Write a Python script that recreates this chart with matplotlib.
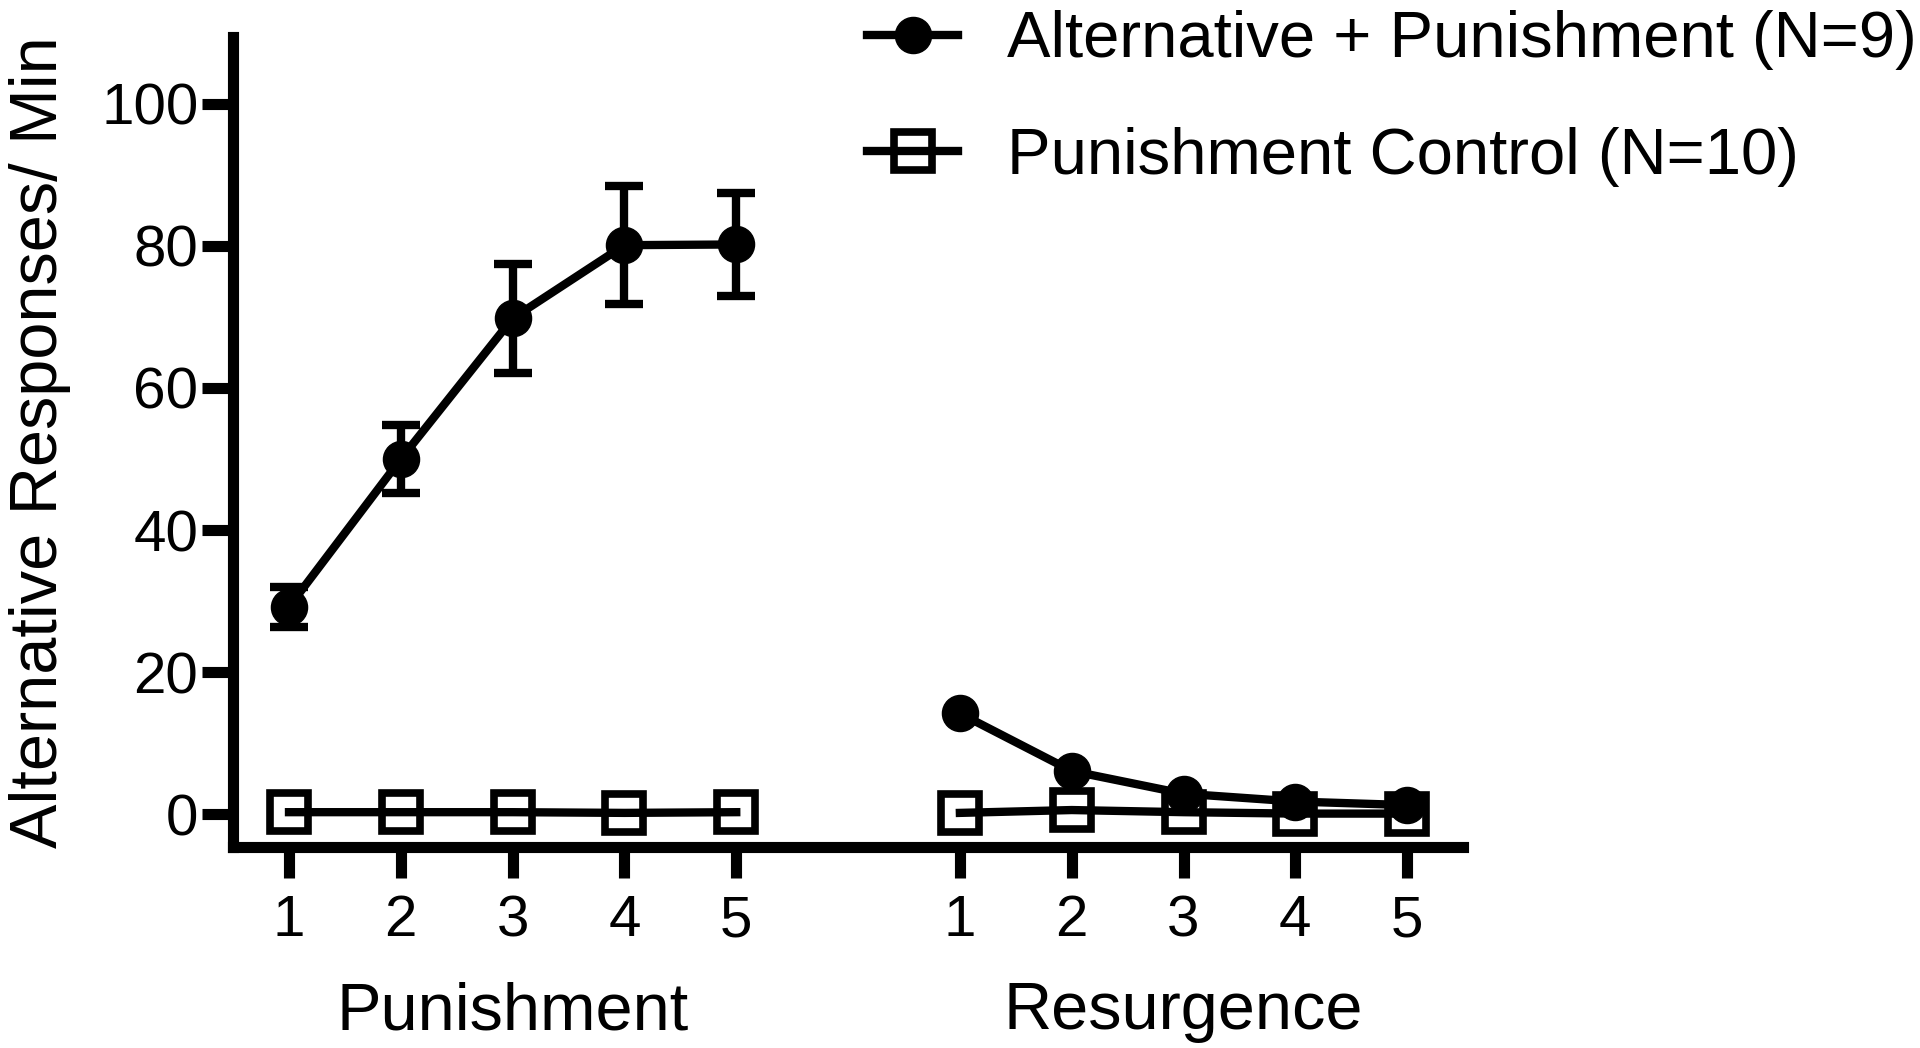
import matplotlib
matplotlib.use("Agg")
import matplotlib.pyplot as plt
import matplotlib.transforms as mtransforms

plt.rcParams['font.family'] = ['Liberation Sans', 'DejaVu Sans']

# session positions: punishment 1-5, resurgence 1-5 (gap of one slot between phases)
pun_x = [1, 2, 3, 4, 5]
res_x = [7, 8, 9, 10, 11]
tick_labels = ["1", "2", "3", "4", "5", "1", "2", "3", "4", "5"]

alt_pun = [29.2, 50.0, 69.8, 80.1, 80.2]
alt_pun_err = [2.8, 4.8, 7.7, 8.3, 7.2]
alt_res = [14.2, 6.1, 2.9, 1.8, 1.3]

ctrl_pun = [0.3, 0.3, 0.3, 0.2, 0.3]
ctrl_res = [0.2, 0.6, 0.3, 0.1, 0.1]

fig = plt.figure(figsize=(19.2, 10.48), dpi=100)
ax = fig.add_axes([0.1214, 0.1918, 0.6406, 0.7729])

lw = 6
# control group: open squares
ax.plot(pun_x, ctrl_pun, color='black', lw=lw, marker='s', ms=27, mfc='none', mew=5.5,
        label="Punishment Control (N=10)")
ax.plot(res_x, ctrl_res, color='black', lw=lw, marker='s', ms=27, mfc='none', mew=5.5)

# alternative + punishment: filled circles with SEM bars
ax.errorbar(pun_x, alt_pun, yerr=alt_pun_err, fmt='none', ecolor='black',
            elinewidth=6, capsize=14, capthick=6)
ax.plot(pun_x, alt_pun, color='black', lw=lw, marker='o', ms=26,
        label="Alternative + Punishment (N=9)")
ax.plot(res_x, alt_res, color='black', lw=lw, marker='o', ms=26)

ax.set_xlim(0.5, 11.5)
ax.set_ylim(-4.6, 109.4)
ax.set_yticks([0, 20, 40, 60, 80, 100])
ax.set_xticks(pun_x + res_x)
ax.set_xticklabels(tick_labels)

for side in ['top', 'right']:
    ax.spines[side].set_visible(False)
for side in ['left', 'bottom']:
    ax.spines[side].set_linewidth(8)

ax.tick_params(axis='both', width=8, length=22, labelsize=42, direction='out')
ax.tick_params(axis='y', pad=3)
ax.tick_params(axis='x', pad=12)

ax.set_ylabel("Alternative Responses/ Min", fontsize=48, labelpad=22)

trans = mtransforms.blended_transform_factory(ax.transData, fig.transFigure)
ax.text(3, 0.018, "Punishment", transform=trans, ha='center', va='baseline', fontsize=48)
ax.text(9, 0.018, "Resurgence", transform=trans, ha='center', va='baseline', fontsize=48)

handles, labels = ax.get_legend_handles_labels()
fig.legend(handles[::-1], labels[::-1], loc='upper left', bbox_to_anchor=(0.4516, 0.99),
           frameon=False, fontsize=47, handlelength=1.4, handletextpad=0.75,
           labelspacing=0.86, borderpad=0, borderaxespad=0)

fig.savefig("out.png", dpi=100)
